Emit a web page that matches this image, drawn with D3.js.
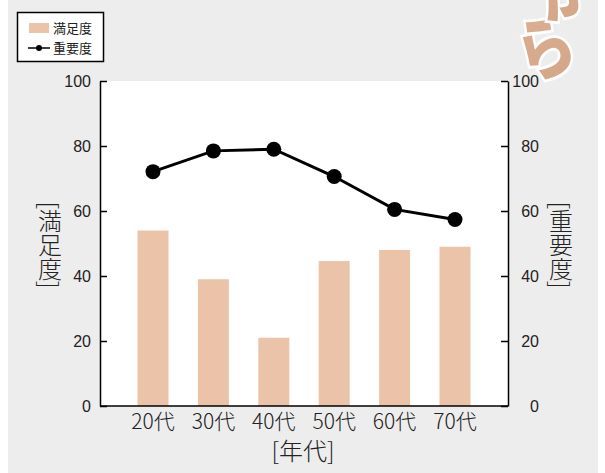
<!DOCTYPE html>
<html>
<head>
<meta charset="utf-8">
<script src="https://cdn.jsdelivr.net/npm/d3@7"></script>
<style>
  html, body { margin: 0; padding: 0; background: #fff; }
  svg { display: block; font-family: "Noto Sans CJK JP", "Noto Sans", sans-serif; }
</style>
</head>
<body>
<div id="chart"></div>
<script>
/* ── Data ──────────────────────────────────────────────────────────────── */
const categories   = ['20代', '30代', '40代', '50代', '60代', '70代'];
const satisfaction = [54, 39, 21, 44.6, 48, 49];        // 満足度 (bars, left axis)
const importance   = [72.1, 78.5, 79, 70.6, 60.5, 57.4]; // 重要度 (line, right axis)
const yTicks       = [0, 20, 40, 60, 80, 100];

/* ── Constants ─────────────────────────────────────────────────────────── */
const BAR  = '#eac3a9';
const TEXT = '#222';
const W = 605, H = 473;
const plot = { left: 100, right: 508, top: 81, bottom: 406 };

const svg = d3.select('#chart').append('svg')
  .attr('width', W)
  .attr('height', H);

// grey panel
svg.append('rect')
  .attr('x', 8).attr('y', 0)
  .attr('width', 590).attr('height', H)
  .attr('fill', '#ededed');

// decoration (cropped heading lettering, top right)
const defs = svg.append('defs');
const grad = defs.append('linearGradient')
  .attr('id', 'deco').attr('x1', 0).attr('y1', 0).attr('x2', 0).attr('y2', 1);
grad.append('stop').attr('offset', '0%').attr('stop-color', '#dcb094');
grad.append('stop').attr('offset', '100%').attr('stop-color', '#d4a587');

svg.append('text')
  .attr('transform', 'translate(554,72) rotate(-20) scale(0.95,1.15)')
  .attr('text-anchor', 'middle')
  .style('font-size', '60px')
  .style('font-weight', 900)
  .style('fill', 'url(#deco)')
  .style('stroke', '#fff')
  .style('stroke-width', 5)
  .style('paint-order', 'stroke')
  .text('ら');
svg.append('text')
  .attr('transform', 'translate(572,12) rotate(-20) scale(0.95,1.15)')
  .attr('text-anchor', 'middle')
  .style('font-size', '60px')
  .style('font-weight', 900)
  .style('fill', 'url(#deco)')
  .style('stroke', '#fff')
  .style('stroke-width', 5)
  .style('paint-order', 'stroke')
  .text('か');

// plot background
svg.append('rect')
  .attr('x', plot.left).attr('y', plot.top)
  .attr('width', plot.right - plot.left)
  .attr('height', plot.bottom - plot.top)
  .attr('fill', '#fff');

/* ── Scales ────────────────────────────────────────────────────────────── */
const x = d3.scaleBand()
  .domain(categories)
  .range([plot.left, plot.right])
  .paddingInner(0.487)
  .paddingOuter(0.621);

const yL = d3.scaleLinear().domain([0, 100]).range([plot.bottom, plot.top]);
const yR = d3.scaleLinear().domain([0, 100]).range([plot.bottom, plot.top]);

/* ── Bars ──────────────────────────────────────────────────────────────── */
svg.selectAll('.bar')
  .data(satisfaction)
  .join('rect')
    .attr('class', 'bar')
    .attr('x', (d, i) => x(categories[i]))
    .attr('y', d => yL(d))
    .attr('width', x.bandwidth())
    .attr('height', d => yL(0) - yL(d))
    .attr('fill', BAR);

/* ── Axes ──────────────────────────────────────────────────────────────── */
const left = svg.append('g')
  .attr('transform', `translate(${plot.left},0)`)
  .call(d3.axisLeft(yL).tickValues(yTicks).tickSizeInner(-7).tickSizeOuter(0).tickPadding(9));
const right = svg.append('g')
  .attr('transform', `translate(${plot.right},0)`)
  .call(d3.axisRight(yR).tickValues(yTicks).tickSizeInner(-7).tickSizeOuter(0).tickPadding(31));

[left, right].forEach(g => {
  g.select('.domain').attr('stroke', '#000').attr('stroke-width', 1.5);
  g.selectAll('.tick line').attr('stroke', '#000').attr('stroke-width', 1.5);
  g.selectAll('.tick text')
    .style('font-size', '16px')
    .style('font-weight', 300)
    .style('fill', TEXT)
    .attr('dy', '0.36em');
});
right.selectAll('.tick text').attr('text-anchor', 'end');

// bottom border
svg.append('line')
  .attr('x1', plot.left).attr('x2', plot.right)
  .attr('y1', plot.bottom).attr('y2', plot.bottom)
  .attr('stroke', '#000').attr('stroke-width', 1.5);

// category labels
svg.selectAll('.xlab')
  .data(categories)
  .join('text')
    .attr('class', 'xlab')
    .attr('x', d => x(d) + x.bandwidth() / 2)
    .attr('y', 429)
    .attr('text-anchor', 'middle')
    .style('font-size', '21px')
    .style('font-weight', 300)
    .style('fill', TEXT)
    .text(d => d);

// axis titles
svg.append('text')
  .attr('x', 303).attr('y', 460)
  .attr('text-anchor', 'middle')
  .style('font-size', '24px')
  .style('font-weight', 300)
  .style('fill', TEXT)
  .text('[年代]');

[['[満足度]', 50], ['[重要度]', 561]].forEach(([t, cx]) => {
  svg.append('text')
    .attr('x', cx).attr('y', 245)
    .attr('text-anchor', 'middle')
    .attr('dominant-baseline', 'central')
    .style('writing-mode', 'vertical-rl')
    .style('font-size', '24px')
    .style('font-weight', 300)
    .style('fill', TEXT)
    .text(t);
});

/* ── Line ──────────────────────────────────────────────────────────────── */
const cx = i => x(categories[i]) + x.bandwidth() / 2;
svg.append('path')
  .datum(importance)
  .attr('d', d3.line().x((d, i) => cx(i)).y(d => yR(d)))
  .attr('fill', 'none')
  .attr('stroke', '#000')
  .attr('stroke-width', 3);

svg.selectAll('.dot')
  .data(importance)
  .join('circle')
    .attr('class', 'dot')
    .attr('cx', (d, i) => cx(i))
    .attr('cy', d => yR(d))
    .attr('r', 7.5)
    .attr('fill', '#000');

/* ── Legend ────────────────────────────────────────────────────────────── */
const lg = svg.append('g');
lg.append('rect')
  .attr('x', 17.5).attr('y', 12.5)
  .attr('width', 86).attr('height', 49)
  .attr('fill', '#fff')
  .attr('stroke', '#000').attr('stroke-width', 1.5);
lg.append('rect')
  .attr('x', 29).attr('y', 23)
  .attr('width', 20).attr('height', 10)
  .attr('fill', BAR);
lg.append('line')
  .attr('x1', 28).attr('x2', 50)
  .attr('y1', 48).attr('y2', 48)
  .attr('stroke', '#000').attr('stroke-width', 1.5);
lg.append('circle')
  .attr('cx', 39).attr('cy', 48).attr('r', 3)
  .attr('fill', '#000');
[['満足度', 28], ['重要度', 48]].forEach(([t, yy]) => {
  lg.append('text')
    .attr('x', 53).attr('y', yy)
    .attr('dy', '0.36em')
    .style('font-size', '13px')
    .style('fill', TEXT)
    .text(t);
});
</script>
</body>
</html>
